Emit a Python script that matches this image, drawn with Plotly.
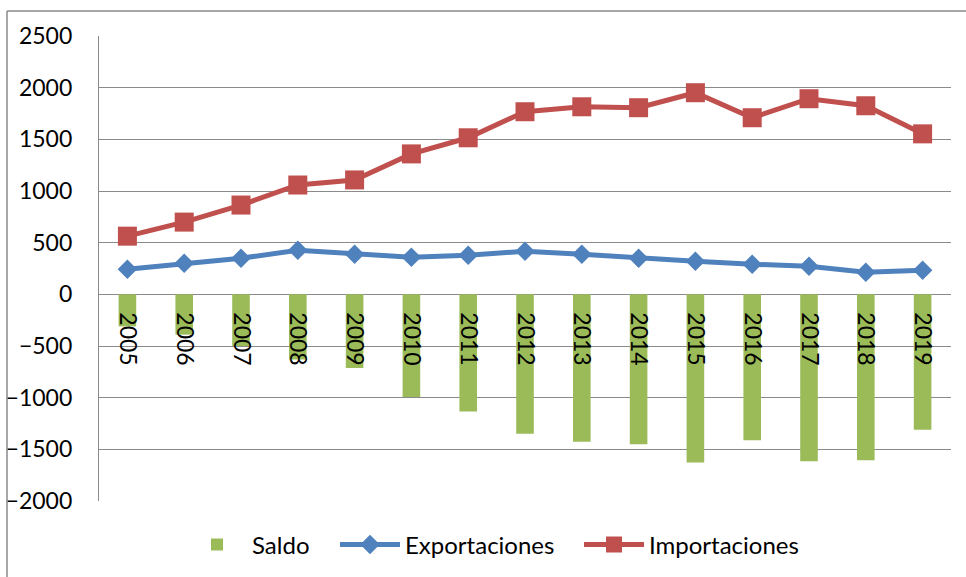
import plotly.graph_objects as go

years = [str(y) for y in range(2005, 2020)]
saldo = [-310, -390, -500, -630, -712, -993, -1133, -1350, -1427, -1450, -1628, -1411, -1615, -1605, -1311]
exportaciones = [243, 301, 349, 427, 388, 359, 378, 417, 388, 349, 320, 291, 272, 213, 233]
importaciones = [563, 699, 864, 1058, 1107, 1359, 1515, 1767, 1815, 1806, 1951, 1709, 1893, 1825, 1553]
y_ticks = [-2000, -1500, -1000, -500, 0, 500, 1000, 1500, 2000, 2500]

GREEN = "#9BBB59"
BLUE = "#4F81BD"
RED = "#C0504D"
GRID = "#8A8A8A"
FONT = "Lato"

fig = go.Figure()
fig.add_trace(go.Bar(x=years, y=saldo, name="Saldo", marker=dict(color=GREEN, line=dict(width=0)),
                     width=0.31, legend="legend"))
fig.add_trace(go.Scatter(x=years, y=exportaciones, name="Exportaciones", mode="lines+markers",
                         line=dict(color=BLUE, width=5),
                         marker=dict(symbol="diamond", size=15, color=BLUE), legend="legend2"))
fig.add_trace(go.Scatter(x=years, y=importaciones, name="Importaciones", mode="lines+markers",
                         line=dict(color=RED, width=5),
                         marker=dict(symbol="square", size=19, color=RED), legend="legend3"))

L, R, T, B = 99, 15, 36, 76
W, H = 966, 577
pw = W - L - R
ph = H - T - B
ymin, ymax = -2000, 2500
zero_frac = (0 - ymin) / (ymax - ymin)

def px_x(p):
    return (p - L) / pw

def px_y(p):
    return (T + ph - p) / ph

def leg(left_px):
    return dict(orientation="h", x=px_x(left_px), xanchor="left",
                y=px_y(545), yanchor="middle", bgcolor="rgba(0,0,0,0)",
                font=dict(size=24, family=FONT, color="black"), itemwidth=60)

fig.update_layout(
    width=W, height=H,
    margin=dict(l=L, r=R, t=T, b=B, autoexpand=False),
    paper_bgcolor="white", plot_bgcolor="white",
    font=dict(family=FONT, size=24, color="black"),
    showlegend=True,
    legend=leg(182),
    legend2=leg(335),
    legend3=leg(579),
    xaxis=dict(type="category", anchor="free", position=zero_frac,
               showgrid=False, showline=False, tickangle=90, ticks="",
               ticklabelstandoff=17, tickfont=dict(size=23), automargin=False,
               range=[-0.5, len(years) - 0.5]),
    yaxis=dict(range=[ymin, ymax], tickvals=y_ticks, showgrid=True, gridcolor=GRID, gridwidth=1.3,
               zeroline=True, zerolinecolor=GRID, zerolinewidth=1.3,
               showline=True, linecolor=GRID, linewidth=1.3, ticks="", automargin=False,
               ticklabelstandoff=21, tickfont=dict(size=23)),
    shapes=[
        dict(type="line", xref="paper", yref="paper",
             x0=px_x(7), x1=px_x(7), y0=px_y(11), y1=px_y(H),
             line=dict(color=GRID, width=1.5)),
        dict(type="line", xref="paper", yref="paper",
             x0=px_x(7), x1=px_x(W), y0=px_y(11), y1=px_y(11),
             line=dict(color=GRID, width=1.5)),
    ],
)

fig.write_html("out.html")
